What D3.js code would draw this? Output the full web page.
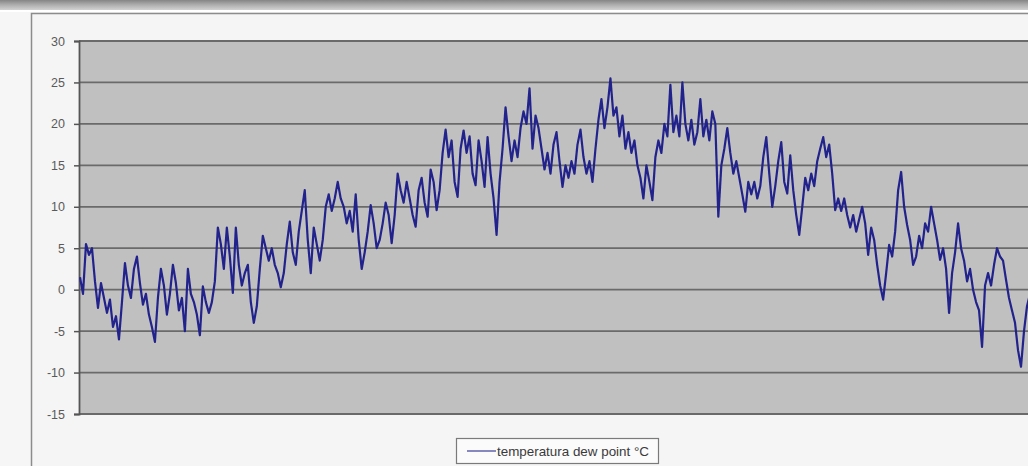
<!DOCTYPE html>
<html>
<head>
<meta charset="utf-8">
<script src="https://cdn.jsdelivr.net/npm/d3@7/dist/d3.min.js"></script>
<style>
html,body{margin:0;padding:0;background:#f6f6f6;overflow:hidden;}
svg{display:block;}
</style>
</head>
<body>
<svg id="chart" width="1028" height="466"></svg>
<script>
// ---- data ----
const seriesName = "temperatura dew point °C";
const yTicks = [30, 25, 20, 15, 10, 5, 0, -5, -10, -15];
const dewPoint = [
 1.5,-0.5,5.5,4.2,5.0,1.0,-2.2,0.8,-1.0,-2.8,-1.2,-4.5,-3.2,-6.0,-1.5,3.2,0.5,-1.0,2.5,4.0,
 0.8,-1.8,-0.5,-3.0,-4.5,-6.3,-1.0,2.5,0.5,-3.0,-0.5,3.0,0.8,-2.5,-1.0,-5.0,2.5,-0.5,-1.5,-3.0,
 -5.5,0.4,-1.5,-2.8,-1.5,1.0,7.5,5.5,2.5,7.5,4.0,-0.4,7.5,3.0,0.5,2.0,3.0,-1.5,-4.0,-2.0,
 2.5,6.5,5.0,3.5,5.0,3.0,2.0,0.3,2.0,5.5,8.2,4.5,3.0,7.0,9.5,12.0,6.0,2.0,7.5,5.5,
 3.5,6.0,10.0,11.5,9.5,11.0,13.0,11.0,10.0,8.0,9.5,7.0,11.5,6.0,2.5,4.5,7.0,10.2,8.0,5.0,
 6.0,8.0,10.5,9.0,5.6,9.0,14.0,12.0,10.5,13.0,11.0,9.0,7.6,12.0,13.5,10.5,8.8,14.5,13.0,9.6,
 12.0,16.5,19.3,16.0,18.0,13.0,11.2,17.0,19.2,16.5,18.5,14.0,12.6,18.0,15.5,12.4,18.4,14.0,11.0,6.6,
 13.0,17.0,22.0,18.5,15.5,18.0,16.0,19.5,21.5,20.0,24.3,17.0,21.0,19.5,17.0,14.5,16.5,14.0,17.5,19.0,
 15.5,12.4,15.0,13.5,15.5,14.0,17.5,19.3,16.0,14.0,15.5,13.0,17.0,20.5,23.0,19.5,22.0,25.5,21.0,22.0,
 18.5,21.0,17.0,19.0,16.5,18.0,15.0,13.5,11.0,15.0,13.0,10.8,16.0,18.0,16.5,20.0,18.5,24.7,19.0,21.0,
 18.5,25.0,20.0,18.0,20.5,17.5,19.0,23.0,18.5,20.5,18.0,21.5,20.0,8.8,15.0,17.0,19.5,16.5,14.0,15.5,
 13.5,11.5,9.4,13.0,11.5,13.0,11.0,12.5,16.0,18.4,14.0,10.0,12.5,15.5,17.8,13.0,11.6,16.2,12.0,9.0,
 6.6,10.0,13.5,12.0,14.0,12.5,15.5,17.0,18.4,16.0,17.5,14.0,9.6,11.0,9.5,11.0,9.0,7.5,9.0,7.0,
 8.5,10.0,8.0,4.2,7.5,6.0,3.0,0.5,-1.2,2.0,5.4,4.0,7.0,12.0,14.2,10.0,7.8,6.0,3.0,4.0,
 6.5,5.0,8.0,7.0,10.0,8.0,6.0,3.6,5.0,2.5,-2.8,2.0,4.5,8.0,5.0,3.5,1.0,2.5,0.0,-1.5,
 -2.5,-6.9,0.5,2.0,0.5,3.0,5.0,4.0,3.5,1.2,-1.0,-2.5,-4.0,-7.3,-9.3,-5.0,-2.0,-0.5
];
const days = dewPoint.map((_, i) => i + 1);

// ---- layout ----
const W = 1028, H = 466;
const plot = {left: 79, top: 41, right: 1070, bottom: 414};
const svg = d3.select("#chart");

const defs = svg.append("defs");
const g1 = defs.append("linearGradient").attr("id","topband").attr("x1",0).attr("y1",0).attr("x2",0).attr("y2",1);
g1.append("stop").attr("offset","0%").attr("stop-color","#858585");
g1.append("stop").attr("offset","45%").attr("stop-color","#ababab");
g1.append("stop").attr("offset","100%").attr("stop-color","#d2d2d2");
const blur = defs.append("filter").attr("id","soft").attr("x","-2%").attr("y","-2%").attr("width","104%").attr("height","104%");
blur.append("feGaussianBlur").attr("stdDeviation",0.45);

svg.append("rect").attr("x",0).attr("y",0).attr("width",W).attr("height",10).attr("fill","url(#topband)");
svg.append("rect").attr("x",0).attr("y",10).attr("width",W).attr("height",2).attr("fill","#ffffff");

// outer chart area
svg.append("rect").attr("x",31.5).attr("y",13.5).attr("width",W+20).attr("height",H)
  .attr("fill","#f5f5f5").attr("stroke","#8c8c8c").attr("stroke-width",1.5);

// scales
const x = d3.scaleLinear().domain([0, dewPoint.length - 1]).range([80, 1030]);
const y = d3.scaleLinear().domain([-15, 30]).range([plot.bottom, plot.top]);

// plot background
svg.append("rect").attr("x",plot.left).attr("y",plot.top)
  .attr("width",plot.right-plot.left).attr("height",plot.bottom-plot.top)
  .attr("fill","#c0c0c0");

// gridlines
svg.append("g").selectAll("line").data(yTicks).join("line")
  .attr("x1",plot.left).attr("x2",plot.right)
  .attr("y1",d=>y(d)).attr("y2",d=>y(d))
  .attr("stroke","#6a6a6a").attr("stroke-width",1.8);

// y axis
const yAxis = d3.axisLeft(y).tickValues(yTicks).tickSize(5).tickPadding(8).tickFormat(d3.format("d"));
const ag = svg.append("g").attr("transform",`translate(${plot.left},0)`).call(yAxis);
ag.select(".domain").attr("stroke","#555").attr("stroke-width",1.8);
ag.selectAll(".tick line").attr("stroke","#555").attr("stroke-width",1.5);
ag.selectAll(".tick text").attr("fill","#5a5a5a").attr("font-family","Liberation Sans, Arial, sans-serif")
  .attr("font-size",12.5).attr("dx",-1).text(d => d < 0 ? "-" + Math.abs(d) : d);

// line
const line = d3.line().x((d,i)=>x(i)).y(d=>y(d));
svg.append("path").datum(dewPoint).attr("d",line)
  .attr("fill","none").attr("stroke","#22228c").attr("stroke-width",2.2)
  .attr("stroke-linejoin","round").attr("filter","url(#soft)");

// legend
const lg = svg.append("g");
lg.append("rect").attr("x",456.5).attr("y",438.5).attr("width",202).attr("height",25)
  .attr("fill","#fbfbfb").attr("stroke","#7a7a7a").attr("stroke-width",1.2);
lg.append("line").attr("x1",467).attr("x2",496).attr("y1",451).attr("y2",451)
  .attr("stroke","#4a4aa0").attr("stroke-width",1.3);
lg.append("text").attr("x",497).attr("y",455.5).text(seriesName)
  .attr("font-family","Liberation Sans, Arial, sans-serif").attr("font-size",13.4)
  .attr("fill","#3a3a3a");
</script>
</body>
</html>
